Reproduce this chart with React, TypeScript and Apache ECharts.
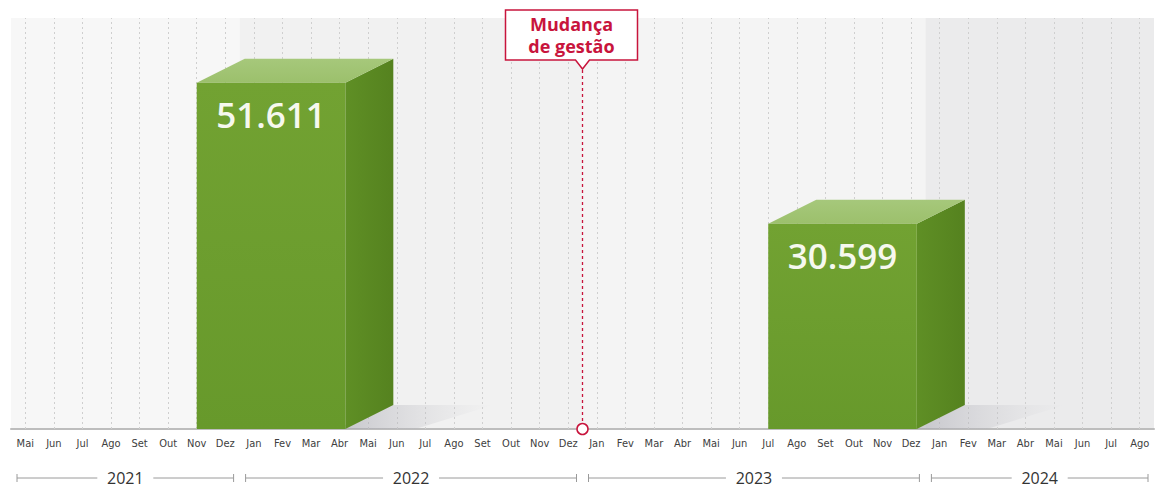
import React, { useEffect, useRef } from 'react';
import * as echarts from 'echarts';

// ---- data ----
const months: string[] = [
  'Mai 2021', 'Jun 2021', 'Jul 2021', 'Ago 2021', 'Set 2021', 'Out 2021', 'Nov 2021', 'Dez 2021',
  'Jan 2022', 'Fev 2022', 'Mar 2022', 'Abr 2022', 'Mai 2022', 'Jun 2022', 'Jul 2022', 'Ago 2022',
  'Set 2022', 'Out 2022', 'Nov 2022', 'Dez 2022',
  'Jan 2023', 'Fev 2023', 'Mar 2023', 'Abr 2023', 'Mai 2023', 'Jun 2023', 'Jul 2023', 'Ago 2023',
  'Set 2023', 'Out 2023', 'Nov 2023', 'Dez 2023',
  'Jan 2024', 'Fev 2024', 'Mar 2024', 'Abr 2024', 'Mai 2024', 'Jun 2024', 'Jul 2024', 'Ago 2024',
];
const years: string[] = ['2021', '2022', '2023', '2024'];
const yearStart: string[] = ['Mai 2021', 'Jan 2022', 'Jan 2023', 'Jan 2024'];
const yearEnd: string[] = ['Dez 2021', 'Dez 2022', 'Dez 2023', 'Ago 2024'];

const periodStart: string[] = ['Nov 2021', 'Jul 2023'];
const periodEnd: string[] = ['Abr 2022', 'Dez 2023'];
const periodValues: number[] = [51611, 30599];

const eventAfter = 'Dez 2022';
const eventLines: string[] = ['Mudança', 'de gestão'];

// ---- styles ----
const yearShades = ['#f7f7f7', '#f1f1f1', '#f4f4f4', '#ebebec'];
const RED = '#c8143c';
const DX = 48;
const DY = -24;

const fmt = (v: number) => String(Math.round(v)).replace(/\B(?=(\d{3})+(?!\d))/g, '.');

export default function App() {
  const ref = useRef<HTMLDivElement>(null);
  useEffect(() => {
    const chart = echarts.init(ref.current!, null, { renderer: 'svg' });
    const idx = (m: string) => months.indexOf(m);

    const yearData = years.map((y, i) => [idx(yearStart[i]), idx(yearEnd[i]), 0, i]);
    const barData = periodValues.map((v, i) => [idx(periodStart[i]), idx(periodEnd[i]), v]);
    const eventData = [[idx(eventAfter), 0]];

    const option: any = {
      animation: false,
      backgroundColor: '#ffffff',
      grid: { left: 11, right: 2, top: 18, bottom: 61, containLabel: false },
      xAxis: {
        type: 'category',
        data: months,
        boundaryGap: true,
        z: 1,
        axisLine: { show: true, lineStyle: { color: '#bdbdbd', width: 2 } },
        axisTick: {
          show: true,
          inside: true,
          length: 411,
          alignWithLabel: true,
          interval: 0,
          lineStyle: { color: '#cfcfcf', width: 1, type: [2, 3] },
        },
        axisLabel: {
          interval: 0,
          margin: 9,
          fontSize: 11,
          color: '#404040',
          fontFamily: "'Liberation Sans Narrow','DejaVu Sans Condensed',sans-serif",
          formatter: (v: string) => v.split(' ')[0],
        },
        splitLine: { show: false },
      },
      yAxis: {
        type: 'value',
        min: 0,
        max: 61250,
        show: false,
        splitLine: { show: false },
      },
      series: [
        {
          type: 'custom',
          name: 'anos',
          z: 0,
          clip: false,
          silent: true,
          encode: { x: [0, 1], y: 2 },
          data: yearData,
          renderItem: (params: any, api: any) => {
            const s = api.value(0);
            const e = api.value(1);
            const i = api.value(3);
            const band = api.size([1, 0])[0];
            const cs = params.coordSys;
            const xl = api.coord([s, 0])[0] - band / 2;
            const xr = api.coord([e, 0])[0] + band / 2;
            const yb = cs.y + cs.height;
            const ry = yb + 49;
            const lx0 = xl + 6;
            const lx1 = xr - 6;
            const mid = (lx0 + lx1) / 2;
            const gap = 28;
            const ls = { stroke: '#9a9a9a', lineWidth: 1 };
            return {
              type: 'group',
              children: [
                {
                  type: 'rect',
                  shape: { x: xl, y: cs.y, width: xr - xl, height: cs.height },
                  style: { fill: yearShades[i] },
                },
                { type: 'line', shape: { x1: lx0, y1: ry, x2: mid - gap, y2: ry }, style: ls },
                { type: 'line', shape: { x1: mid + gap, y1: ry, x2: lx1, y2: ry }, style: ls },
                { type: 'line', shape: { x1: lx0, y1: ry - 4, x2: lx0, y2: ry + 4 }, style: ls },
                { type: 'line', shape: { x1: lx1, y1: ry - 4, x2: lx1, y2: ry + 4 }, style: ls },
                {
                  type: 'text',
                  style: {
                    text: years[i],
                    x: mid,
                    y: ry,
                    align: 'center',
                    verticalAlign: 'middle',
                    fontSize: 16,
                    lineHeight: 18,
                    fontFamily: "'Open Sans',sans-serif",
                    fill: '#333333',
                  },
                },
              ],
            };
          },
        },
        {
          type: 'custom',
          name: 'valores',
          z: 3,
          clip: false,
          encode: { x: [0, 1], y: 2 },
          data: barData,
          renderItem: (params: any, api: any) => {
            const s = api.value(0);
            const e = api.value(1);
            const v = api.value(2);
            const band = api.size([1, 0])[0];
            const p0 = api.coord([s, 0]);
            const p1 = api.coord([e, v]);
            const x0 = p0[0];
            const x1 = p1[0] + band * 0.2;
            const yb = p0[1];
            const yt = p1[1];
            return {
              type: 'group',
              children: [
                {
                  type: 'polygon',
                  shape: {
                    points: [
                      [x1 - 10, yb],
                      [x1 + DX, yb + DY],
                      [x1 + DX + 100, yb + DY],
                      [x1 + 70, yb],
                    ],
                  },
                  style: {
                    fill: new echarts.graphic.LinearGradient(0, 0, 1, 0, [
                      { offset: 0, color: 'rgba(160,160,170,0.55)' },
                      { offset: 1, color: 'rgba(200,200,205,0)' },
                    ]),
                  },
                },
                {
                  type: 'polygon',
                  shape: {
                    points: [
                      [x1, yt],
                      [x1 + DX, yt + DY],
                      [x1 + DX, yb + DY],
                      [x1, yb],
                    ],
                  },
                  style: {
                    fill: new echarts.graphic.LinearGradient(0, 0, 1, 0, [
                      { offset: 0, color: '#5f8f25' },
                      { offset: 1, color: '#55821f' },
                    ]),
                  },
                },
                {
                  type: 'polygon',
                  shape: {
                    points: [
                      [x0, yt],
                      [x0 + DX, yt + DY],
                      [x1 + DX, yt + DY],
                      [x1, yt],
                    ],
                  },
                  style: {
                    fill: new echarts.graphic.LinearGradient(0, 0, 0, 1, [
                      { offset: 0, color: '#a6c87b' },
                      { offset: 1, color: '#9cc06c' },
                    ]),
                  },
                },
                {
                  type: 'rect',
                  shape: { x: x0, y: yt, width: x1 - x0, height: yb - yt },
                  style: {
                    fill: new echarts.graphic.LinearGradient(0, 0, 0, 1, [
                      { offset: 0, color: '#72a232' },
                      { offset: 1, color: '#67992b' },
                    ]),
                  },
                },
                {
                  type: 'text',
                  style: {
                    text: fmt(v),
                    x: (x0 + x1) / 2,
                    y: yt + 32,
                    align: 'center',
                    verticalAlign: 'middle',
                    fontSize: 35,
                    fontWeight: 600,
                    fontFamily: "'Open Sans',sans-serif",
                    fill: '#f6f8ee',
                  },
                },
              ],
            };
          },
        },
        {
          type: 'custom',
          name: 'gestao',
          z: 4,
          clip: false,
          encode: { x: 0, y: 1 },
          data: eventData,
          renderItem: (params: any, api: any) => {
            const m = api.value(0);
            const band = api.size([1, 0])[0];
            const p = api.coord([m, 0]);
            const x = p[0] + band / 2;
            const yb = p[1];
            const T = 10;
            const B = 60;
            const cx = x - 11;
            const L = cx - 66;
            const R = cx + 66;
            const ts = {
              x: cx,
              align: 'center',
              verticalAlign: 'middle',
              fontSize: 18,
              fontWeight: 'bold',
              fontFamily: "'Open Sans',sans-serif",
              fill: RED,
            };
            return {
              type: 'group',
              children: [
                {
                  type: 'line',
                  shape: { x1: x, y1: B + 10, x2: x, y2: yb - 5 },
                  style: { stroke: RED, lineWidth: 1.3, lineDash: [3, 3] },
                },
                {
                  type: 'circle',
                  shape: { cx: x, cy: yb, r: 5.5 },
                  style: { fill: '#ffffff', stroke: RED, lineWidth: 1.5 },
                },
                {
                  type: 'polygon',
                  shape: {
                    points: [
                      [L, T],
                      [R, T],
                      [R, B],
                      [x + 7, B],
                      [x, B + 9],
                      [x - 7, B],
                      [L, B],
                    ],
                  },
                  style: { fill: '#ffffff', stroke: RED, lineWidth: 1.5 },
                },
                { type: 'text', style: { ...ts, text: eventLines[0], y: 24 } },
                { type: 'text', style: { ...ts, text: eventLines[1], y: 46 } },
              ],
            };
          },
        },
      ],
    };
    chart.setOption(option);
    return () => chart.dispose();
  }, []);
  return (
    <div
      ref={ref}
      style={{ position: 'fixed', left: 0, top: 0, width: 1156, height: 490, background: '#ffffff' }}
    />
  );
}
